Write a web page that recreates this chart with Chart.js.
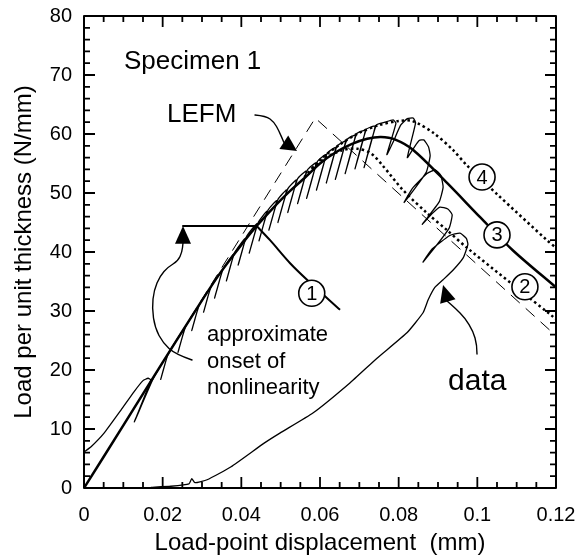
<!DOCTYPE html>
<html><head><meta charset="utf-8">
<script src="https://cdn.jsdelivr.net/npm/chart.js@4"></script>
<style>html,body{margin:0;padding:0;background:#fff}#wrap{width:585px;height:555px;position:relative}canvas{display:block}</style>
</head><body><div id="wrap"><canvas id="c" width="585" height="555" style="width:585px;height:555px"></canvas></div>
<script>
// ---- tick labels ----
const xTickValues = [0, 0.02, 0.04, 0.06, 0.08, 0.1, 0.12];
const xTickLabels = ['0', '0.02', '0.04', '0.06', '0.08', '0.1', '0.12'];
const yTickValues = [0, 10, 20, 30, 40, 50, 60, 70, 80];
const yTickLabels = ['0', '10', '20', '30', '40', '50', '60', '70', '80'];

// ---- experimental data (load-point displacement mm, load N/mm) ----
const dataX = [0,0.0018,0.0051,0.0094,0.0127,0.0150,0.0163,0.0170,0.0128,0.0175,
 0.0211,0.0195,0.0214,0.0255,0.0239,0.0258,0.0290,0.0274,0.0293,0.0320,0.0304,0.0323,
 0.0350,0.0332,0.0353,0.0380,0.0362,0.0383,0.0410,0.0392,0.0413,0.0440,0.0420,0.0443,
 0.0465,0.0445,0.0468,0.0490,0.0470,0.0493,0.0515,0.0493,0.0518,0.0540,0.0518,0.0543,
 0.0565,0.0543,0.0568,0.0590,0.0566,0.0593,0.0615,0.0591,0.0618,0.0640,0.0616,0.0643,
 0.0665,0.0639,0.0668,0.0690,0.0664,0.0693,0.0715,0.0689,0.0718,0.0740,0.0712,0.0743,
 0.0765,0.0786,0.0793,0.0770,0.0785,0.0805,0.0822,0.0837,0.0843,0.0822,0.0838,0.0852,
 0.0864,0.0876,0.0880,0.0870,0.0814,0.0835,0.0872,0.0893,0.0907,0.0913,0.0903,0.0860,
 0.0885,0.0905,0.0925,0.0936,0.0928,0.0862,0.0885,0.0930,0.0956,0.0972,0.0976,0.0964,
 0.0938,0.0913,0.0892,0.0875,0.0862,0.0821,0.0745,0.0676,0.0582,0.0498,0.0458,0.0374,
 0.0313,0.0282,0.0274,0.0267,0.0221,0.0170];
const dataY = [6.1,7.0,9.3,13.2,16.3,18.2,18.6,18.3,11.2,18.4,
 22.4,18.4,22.7,27.0,23.0,27.3,30.7,26.7,31.0,33.8,29.8,34.1,
 36.7,32.2,37.0,39.6,35.1,39.9,42.3,37.8,42.6,44.8,39.8,45.0,
 46.9,41.9,47.1,48.7,43.7,48.9,50.5,45.0,50.7,52.2,46.7,52.4,
 53.7,48.2,53.9,55.1,49.1,55.3,56.5,50.5,56.7,57.7,51.7,57.9,
 58.8,52.3,59.0,59.8,53.3,60.0,60.6,54.1,60.8,61.3,54.3,61.5,
 62.0,62.4,61.8,56.5,58.5,61.5,62.6,62.7,61.9,56.0,57.6,58.9,
 59.0,57.8,56.3,53.5,48.4,50.8,53.3,53.9,53.0,51.0,48.5,44.7,
 46.5,47.6,47.3,46.3,44.0,38.3,40.5,42.8,43.2,42.3,41.3,39.0,
 36.9,35.3,34.0,31.9,29.7,26.3,22.0,17.8,12.7,9.3,7.6,3.6,
 1.4,0.9,1.6,0.7,0.3,0.1];

// ---- model predictions ----
const model1X = [0.0439, 0.0473, 0.0524, 0.0567, 0.0651];
const model1Y = [44.4, 42.0, 38.1, 35.3, 30.2];
const model2X = [0.0580, 0.0620, 0.0660, 0.0695, 0.0730, 0.0760, 0.0811, 0.0872, 0.0923, 0.0974, 0.1193, 0.1200];
const model2Y = [54.2, 56.2, 57.3, 57.5, 56.7, 54.6, 50.5, 46.6, 43.7, 40.7, 29.0, 28.6];
const model3X = [0, 0.01, 0.02, 0.03, 0.035, 0.04, 0.0439, 0.048, 0.052, 0.056, 0.060, 0.064, 0.068, 0.072, 0.0755, 0.079, 0.0837, 0.0923, 0.1007, 0.109, 0.12];
const model3Y = [0, 10.6, 21.3, 31.8, 36.8, 41.2, 44.4, 47.4, 50.1, 52.5, 55.0, 56.9, 58.3, 59.2, 59.5, 59.1, 57.3, 51.7, 45.9, 40.3, 34.0];
const model4X = [0.056, 0.060, 0.065, 0.070, 0.075, 0.080, 0.0835, 0.0888, 0.0938, 0.0973, 0.1012, 0.105, 0.1177, 0.12];
const model4Y = [52.7, 55.6, 58.2, 60.2, 61.5, 62.2, 62.2, 60.2, 57.3, 54.7, 52.2, 49.8, 42.0, 40.7];
const lefmX = [0, 0.0588, 0.12];
const lefmY = [0, 62.7, 25.8];

// ---- curve label positions (circled numbers) ----
const curveLabels = ['1', '2', '3', '4'];
const curveLabelX = [0.0579, 0.1121, 0.1050, 0.1012];
const curveLabelY = [33.0, 34.1, 42.9, 52.7];

const pts = (xs, ys) => xs.map((x, i) => ({x, y: ys[i]}));
const FONT = "'Liberation Sans', Arial, Helvetica, sans-serif";

function smoothPath(ctx, p) {
  ctx.moveTo(p[0][0], p[0][1]);
  for (let i = 1; i < p.length - 1; i++) {
    const mx = (p[i][0] + p[i + 1][0]) / 2, my = (p[i][1] + p[i + 1][1]) / 2;
    ctx.quadraticCurveTo(p[i][0], p[i][1], mx, my);
  }
  ctx.lineTo(p[p.length - 1][0], p[p.length - 1][1]);
}
function head(ctx, base, tip, hw) {
  const dx = tip[0] - base[0], dy = tip[1] - base[1];
  const L = Math.hypot(dx, dy), nx = -dy / L, ny = dx / L;
  ctx.beginPath();
  ctx.moveTo(tip[0], tip[1]);
  ctx.lineTo(base[0] + nx * hw, base[1] + ny * hw);
  ctx.lineTo(base[0] - nx * hw, base[1] - ny * hw);
  ctx.closePath();
  ctx.fill();
}

const decor = {
  id: 'decor',
  afterDatasetsDraw(chart) {
    const {ctx, chartArea: a, scales: {x, y}} = chart;
    const P = (dx, dy) => [x.getPixelForValue(dx), y.getPixelForValue(dy)];
    ctx.save();
    ctx.strokeStyle = '#000'; ctx.fillStyle = '#000'; ctx.lineCap = 'round'; ctx.lineJoin = 'round';

    // onset-of-nonlinearity annotation
    ctx.lineWidth = 2;
    ctx.beginPath();
    const t0 = P(0.02517, 44.41), t1 = P(0.0439, 44.41);
    ctx.moveTo(t0[0], t0[1]); ctx.lineTo(t1[0], t1[1]); ctx.stroke();
    ctx.lineWidth = 1.4;
    const onset = [[0.02746,21.69],[0.02314,22.71],[0.02009,24.58],[0.01805,27.12],[0.01729,30.51],[0.0178,33.56],[0.01932,35.93],[0.02136,37.46],[0.0239,38.47],[0.02492,40.0],[0.02517,41.53]].map(q => P(q[0], q[1]));
    ctx.beginPath(); smoothPath(ctx, onset); ctx.stroke();
    head(ctx, P(0.02517, 41.4), t0, 8);

    // LEFM arrow
    const lefmA = [[0.04348,63.22],[0.04628,63.05],[0.04831,62.03],[0.04958,60.51],[0.0508,58.6]].map(q => P(q[0], q[1]));
    ctx.beginPath(); smoothPath(ctx, lefmA); ctx.stroke();
    head(ctx, P(0.0508, 58.6), P(0.05416, 57.12), 8);

    // data arrow
    const dataA = [[0.09992,22.71],[0.09992,24.24],[0.09891,26.61],[0.09687,28.81],[0.09433,30.51],[0.0923,31.69]].map(q => P(q[0], q[1]));
    ctx.beginPath(); smoothPath(ctx, dataA); ctx.stroke();
    head(ctx, P(0.0925, 31.6), P(0.09128, 34.41), 8);

    // circled curve labels
    ctx.textAlign = 'center'; ctx.textBaseline = 'middle';
    curveLabels.forEach((t, i) => {
      const c = P(curveLabelX[i], curveLabelY[i]);
      ctx.beginPath(); ctx.arc(c[0], c[1], 13, 0, Math.PI * 2);
      ctx.fillStyle = '#fff'; ctx.fill();
      ctx.lineWidth = 1.6; ctx.strokeStyle = '#000'; ctx.stroke();
      ctx.fillStyle = '#000'; ctx.font = '20px ' + FONT;
      ctx.fillText(t, c[0], c[1] + 1);
    });

    // text annotations
    ctx.textAlign = 'left';
    ctx.font = '26px ' + FONT;
    let p = P(0.01017, 72.2); ctx.fillText('Specimen 1', p[0], p[1]);
    p = P(0.0211, 63.2); ctx.fillText('LEFM', p[0], p[1]);
    ctx.font = '22px ' + FONT;
    p = P(0.03127, 25.9); ctx.fillText('approximate', p[0], p[1]);
    p = P(0.03127, 21.4); ctx.fillText('onset of', p[0], p[1]);
    p = P(0.03127, 16.9); ctx.fillText('nonlinearity', p[0], p[1]);
    ctx.font = '30px ' + FONT;
    p = P(0.09255, 18.0); ctx.fillText('data', p[0], p[1]);

    // frame and inward ticks
    ctx.lineCap = 'butt';
    ctx.lineWidth = 2;
    ctx.strokeRect(a.left, a.top, a.right - a.left, a.bottom - a.top);
    ctx.lineWidth = 1.8;
    ctx.beginPath();
    x.ticks.forEach(t => {
      const px = x.getPixelForValue(t.value);
      const major = xTickValues.some(v => Math.abs(v - t.value) < 1e-7);
      const L = major ? 11 : 6;
      ctx.moveTo(px, a.bottom); ctx.lineTo(px, a.bottom - L);
      ctx.moveTo(px, a.top); ctx.lineTo(px, a.top + L);
    });
    y.ticks.forEach(t => {
      const py = y.getPixelForValue(t.value);
      const major = yTickValues.some(v => Math.abs(v - t.value) < 1e-7);
      const L = major ? 11 : 6;
      ctx.moveTo(a.left, py); ctx.lineTo(a.left + L, py);
      ctx.moveTo(a.right, py); ctx.lineTo(a.right - L, py);
    });
    ctx.stroke();
    ctx.restore();
  }
};

const lab = (vals, labels) => (v) => {
  const i = vals.findIndex(t => Math.abs(t - v) < 1e-7);
  return i >= 0 ? labels[i] : '';
};

new Chart(document.getElementById('c'), {
  type: 'scatter',
  data: {
    datasets: [
      {label: '1', data: pts(model1X, model1Y), showLine: true, borderColor: '#000', borderWidth: 2, pointRadius: 0, tension: 0.3},
      {label: '3', data: pts(model3X, model3Y), showLine: true, borderColor: '#000', borderWidth: 2.5, pointRadius: 0, tension: 0.3},
      {label: '2', data: pts(model2X, model2Y), showLine: true, borderColor: '#000', borderWidth: 2.5, borderDash: [2.5, 3], pointRadius: 0, tension: 0.3},
      {label: '4', data: pts(model4X, model4Y), showLine: true, borderColor: '#000', borderWidth: 2.5, borderDash: [2.5, 3], pointRadius: 0, tension: 0.3},
      {label: 'LEFM', data: pts(lefmX, lefmY), showLine: true, borderColor: '#000', borderWidth: 1, borderDash: [12, 8], pointRadius: 0, tension: 0},
      {label: 'data', data: pts(dataX, dataY), showLine: true, borderColor: '#000', borderWidth: 1.3, pointRadius: 0, tension: 0.15}
    ]
  },
  options: {
    responsive: false, maintainAspectRatio: false, animation: false, devicePixelRatio: 1,
    layout: {padding: {top: 16, right: 29, left: 0, bottom: 0}},
    plugins: {legend: {display: false}, tooltip: {enabled: false}},
    scales: {
      x: {
        type: 'linear', min: 0, max: 0.12,
        afterFit: s => { s.height = 67; },
        grid: {display: false, drawTicks: false},
        border: {display: false},
        ticks: {stepSize: 0.005, maxTicksLimit: 100, autoSkip: false, maxRotation: 0, padding: 9,
          color: '#000', font: {family: FONT, size: 20, lineHeight: 1.8}, callback: lab(xTickValues, xTickLabels)},
        title: {display: true, text: 'Load-point displacement  (mm)', color: '#000',
          font: {family: FONT, size: 24, lineHeight: 1}, padding: {top: 0, bottom: 0}}
      },
      y: {
        type: 'linear', min: 0, max: 80,
        afterFit: s => { s.width = 84; },
        grid: {display: false, drawTicks: false},
        border: {display: false},
        ticks: {stepSize: 2, maxTicksLimit: 100, autoSkip: false, padding: 12,
          color: '#000', font: {family: FONT, size: 20, lineHeight: 0.4}, callback: lab(yTickValues, yTickLabels)},
        title: {display: true, text: 'Load per unit thickness (N/mm)', color: '#000',
          font: {family: FONT, size: 24, lineHeight: 1.2}, padding: {top: 10, bottom: 0}}
      }
    }
  },
  plugins: [decor]
});
</script>
</body></html>
